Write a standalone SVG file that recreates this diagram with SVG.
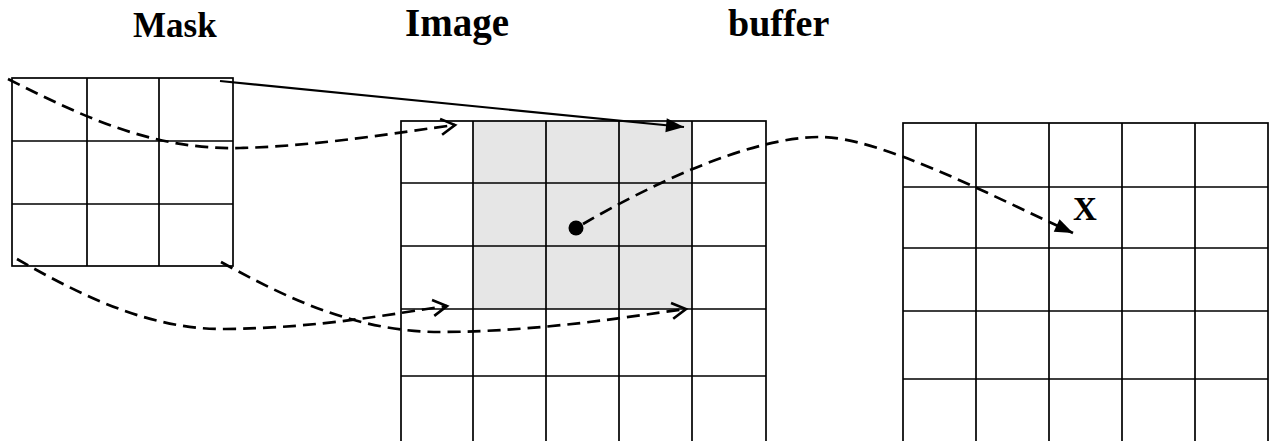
<svg xmlns="http://www.w3.org/2000/svg" width="1271" height="441" viewBox="0 0 1271 441">
<style>
.grid{fill:none;stroke:#000;stroke-width:1.7}
.title{font-family:"Liberation Serif","Times New Roman",serif;font-weight:bold;fill:#000}
.dash{fill:none;stroke:#000;stroke-width:2.7;stroke-dasharray:13 7}
.solid{fill:none;stroke:#000;stroke-width:2.2}
</style>
<defs>
<marker id="open" markerUnits="userSpaceOnUse" markerWidth="20" markerHeight="20" viewBox="0 0 20 20" refX="17" refY="10" orient="auto">
<path d="M3,2 L17,10 L3,18" fill="none" stroke="#000" stroke-width="2.6"/>
</marker>
<marker id="filled" markerUnits="userSpaceOnUse" markerWidth="22" markerHeight="22" viewBox="0 0 22 22" refX="20" refY="11" orient="auto">
<path d="M2,4 L20,11 L2,18 Z" fill="#000"/>
</marker>
</defs>
<rect width="1271" height="441" fill="#fff"/>
<g id="titles">
<text class="title" x="133" y="37" font-size="35">Mask</text>
<text class="title" x="405" y="36" font-size="39">Image</text>
<text class="title" x="728" y="36" font-size="38">buffer</text>
</g>
<g id="mask">
<rect class="grid" x="12" y="78" width="221" height="188"/>
<path class="grid" d="M87,78V266M159,78V266M12,141H233M12,204H233"/>
</g>
<g id="image">
<rect x="473" y="121" width="219" height="188" fill="#e6e6e6"/>
<rect class="grid" x="401" y="121" width="365" height="330"/>
<path class="grid" d="M473,121V441M546,121V441M619,121V441M692,121V441M401,183H766M401,246H766M401,309H766M401,376H766"/>
<circle cx="576" cy="228" r="7.5" fill="#000"/>
</g>
<g id="buffer">
<rect class="grid" x="903" y="123" width="365" height="330"/>
<path class="grid" d="M976,123V441M1049,123V441M1122,123V441M1195,123V441M903,187H1268M903,248H1268M903,311H1268M903,379H1268"/>
<text class="title" x="1073" y="220" font-size="33">X</text>
</g>
<g id="connectors">
<path class="solid" d="M220,81 L684,127" marker-end="url(#filled)"/>
<path class="dash" d="M8,79 C80,115 150,150 240,148 C320,146 400,132 455,125" marker-end="url(#open)"/>
<path class="dash" d="M17,259 C80,295 150,330 225,329 C320,328 390,314 447,306" marker-end="url(#open)"/>
<path class="dash" d="M221,262 C290,300 360,333 445,332 C540,331 620,318 686,309" marker-end="url(#open)"/>
<path class="dash" d="M583,224 C650,185 750,137 820,137 C880,137 990,195 1073,233" marker-end="url(#filled)"/>
</g>
</svg>
